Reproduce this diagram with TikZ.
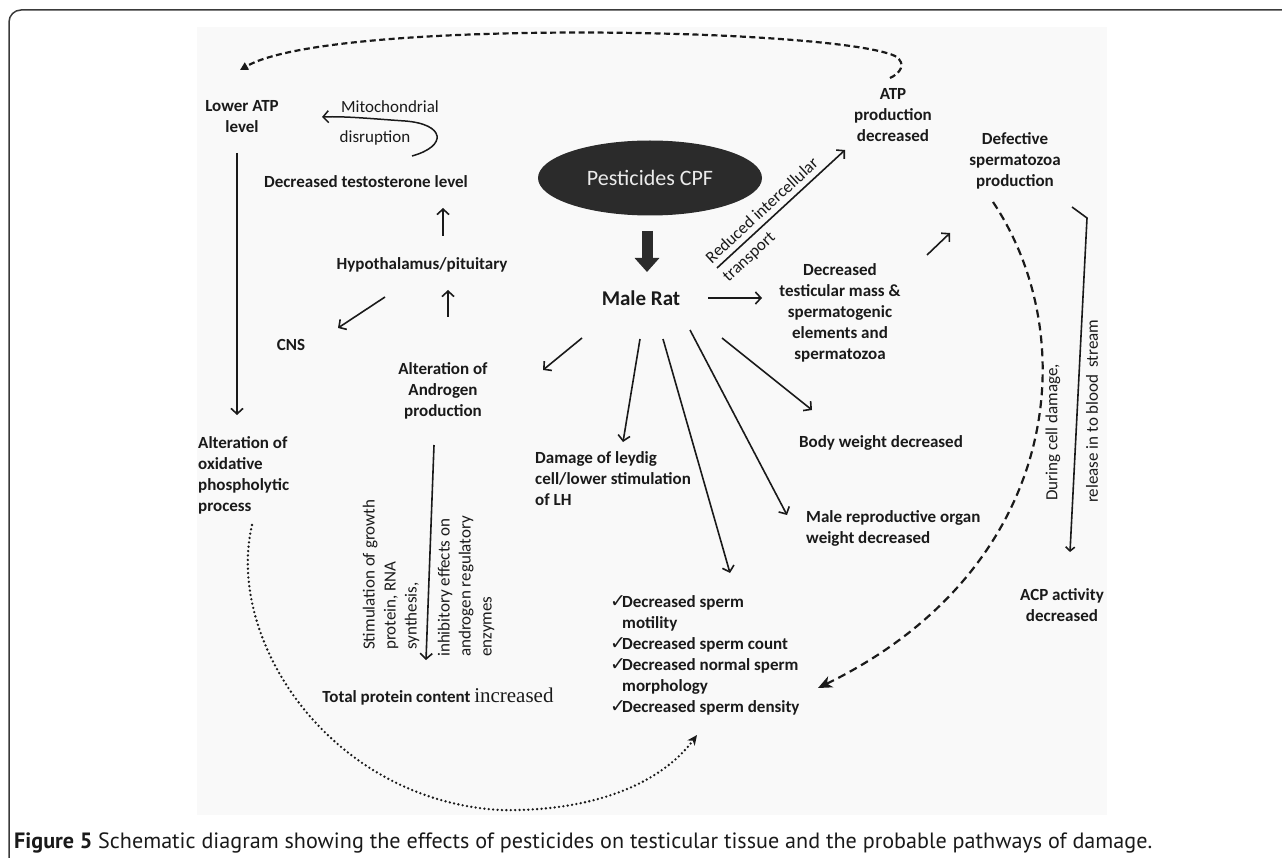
\documentclass[tikz,border=0pt]{standalone}
\usepackage{fontspec}
\setmainfont{Carlito}
\newfontfamily\capfont{PT Sans}
\newfontfamily\symfont{DejaVu Sans}
\newfontfamily\serfont{Liberation Serif}
\usetikzlibrary{arrows.meta,calc,shapes.geometric}
\definecolor{ink}{HTML}{1A1A1A}
\definecolor{bgpanel}{HTML}{F9F9F9}
\definecolor{pestfill}{HTML}{2B2B2B}
\definecolor{framecol}{HTML}{3A3A3A}
\newcommand\ckmark{\makebox[12pt][l]{\raisebox{0.5pt}{\symfont\bfseries\fontsize{19}{19}\selectfont ✓}}}
\newcommand\ckindent{\hspace*{12pt}}
\begin{document}
\begin{tikzpicture}[x=1pt,y=-1pt,
  lbl/.style={font=\fontsize{17}{21}\selectfont\bfseries, text=ink, align=center, inner sep=0pt},
  lbll/.style={lbl, align=left},
  reg/.style={font=\fontsize{17}{21}\selectfont, text=ink, align=left, inner sep=0pt},
  arr/.style={draw=ink, line width=1.6pt, -{Straight Barb[length=5.5pt,width=12pt]}},
  dashline/.style={draw=ink, line width=2.2pt, dash pattern=on 6pt off 3.5pt, -{Triangle[length=8pt,width=8pt]}},
  bigdash/.style={draw=ink, line width=2.2pt, dash pattern=on 8pt off 5pt, -{Stealth[length=14pt,width=12pt,inset=4pt]}},
  dotline/.style={draw=ink, line width=2.6pt, line cap=round, dash pattern=on 0pt off 4.4pt, -{Stealth[length=10pt,width=9pt,inset=3pt]}},
  blockarrow/.style={draw=pestfill, line width=11pt, -{Triangle[length=14pt,width=24pt]}}
]
\useasboundingbox (0,0) rectangle (1282,858);
% frame and panel
\draw[framecol, line width=1.5pt, rounded corners=12pt] (1282,10) -- (9,10) -- (9,860);
\fill[bgpanel] (197,27) rectangle (1107,815);

% nodes
\node[ellipse, fill=pestfill, minimum width=224pt, minimum height=75pt, inner sep=0pt,
      text=white!92!black, font=\fontsize{22}{22}\selectfont] (pest) at (650,178) {Pesticides CPF};
\node[lbl, font=\fontsize{21}{21}\selectfont\bfseries] (male) at (641,298) {Male Rat};
\node[lbl] (lowatp) at (242,117) {Lower ATP\\level};
\node[reg] (mitoA) at (390,107) {Mitochondrial};
\node[reg] (mitoB) at (375,138) {disruption};
\node[lbl] (testo) at (366,182) {Decreased testosterone level};
\node[lbl] (hypo) at (422,265) {Hypothalamus/pituitary};
\node[lbl] (cns) at (291,345) {CNS};
\node[lbl] (andro) at (443,391) {Alteration of\\Androgen\\production};
\node[lbll, anchor=west] (oxid) at (198,475) {Alteration of\\oxidative\\phospholytic\\process};
\node[lbl] (atp) at (893,115) {ATP\\production\\decreased};
\node[lbl] (defect) at (1015,161) {Defective\\spermatozoa\\production};
\node[lbl] (testis) at (840,313) {Decreased\\testicular mass \&\\spermatogenic\\elements and\\spermatozoa};
\node[lbll, anchor=west] (leydig) at (535,479) {Damage of leydig\\cell/lower stimulation\\of LH};
\node[lbl] (body) at (881,443) {Body weight decreased};
\node[lbll, anchor=west] (repro) at (806,528) {Male reproductive organ\\weight decreased};
\node[lbl] (acp) at (1062,605) {ACP activity\\decreased};
\node[lbll, anchor=west] (sperm) at (610,655.5) {\ckmark Decreased sperm\\\ckindent motility\\\ckmark Decreased sperm count\\\ckmark Decreased normal sperm\\\ckindent morphology\\\ckmark Decreased sperm density};
\node[lbl] (totprot) at (438,697) {Total protein content {\mdseries\serfont\fontsize{21}{21}\selectfont increased}};

% rotated labels
\node[reg, rotate=90, anchor=west] (stim) at (391,650) {Stimulation of growth\\protein, RNA\\synthesis,};
\node[reg, rotate=90, anchor=west] (inhib) at (466,657) {inhibitory effects on\\androgen regulatory\\enzymes};
\node[reg, rotate=42.7, anchor=west, font=\fontsize{17}{25}\selectfont] (reduced) at (717,270) {Reduced intercellular\\transport};
\node[reg, rotate=90, anchor=west] (during) at (1053,501) {During cell damage,};
\node[reg, rotate=90, anchor=west] (release) at (1092,503) {release in to blood\, stream};

% connectors
\draw[dashline] ($(atp)+(-3,-37)$) .. controls (899,74) and (908,64) .. (895,56)
   .. controls (835,28) and (330,18) .. ($(lowatp)+(-2,-47)$);
\draw[arr, line width=1.5pt] ($(testo)+(46,-26)$) .. controls (448,146) and (445,124) .. (405,121)
   .. controls (375,119) and (345,116) .. ($(lowatp)+(80,0)$);
\draw[arr] ($(hypo)+(21,-29)$) -- ($(testo)+(77,26)$);
\draw[arr] ($(andro)+(5,-74)$) -- ($(hypo)+(26,25)$);
\draw[arr] ($(hypo)+(-37,32)$) -- ($(cns)+(47,-17)$);
\draw[arr] ($(lowatp)+(-5,36)$) -- ($(oxid.west)+(39,-60)$);
\draw[blockarrow] ($(pest)+(-3,53)$) -- ($(male)+(6,-26)$);
\draw[arr] ($(male)+(76,-30)$) -- ($(atp)+(-48,35)$);
\draw[arr] ($(male)+(67,0)$) -- ($(testis)+(-78,-15)$);
\draw[arr] ($(testis)+(87,-58)$) -- ($(defect)+(-65,72)$);
\draw[arr] ($(male)+(-59,40)$) -- ($(andro)+(100,-21)$);
\draw[arr] ($(male)+(-1,41)$) -- ($(leydig.west)+(88,-37)$);
\draw[arr] ($(male)+(22,41)$) -- ($(sperm.west)+(120,-82.5)$);
\draw[arr] ($(male)+(49,32)$) -- ($(repro.west)+(-19,-13)$);
\draw[arr] ($(male)+(81,40)$) -- ($(body)+(-69,-33)$);
\draw[arr] ($(andro)+(-9,54)$) -- ($(totprot)+(-12,-37)$);
\draw[bigdash] ($(defect)+(-22,41)$) .. controls (1085,340) and (1060,570) .. ($(sperm.west)+(208,32.5)$);
\draw[arr, -{Straight Barb[length=4pt,width=9pt]}] ($(defect)+(57,46)$) -- ($(defect)+(72,57)$) -- ($(acp)+(8,-53)$);
\draw[dotline] ($(oxid.west)+(54,50)$) .. controls (225,640) and (330,800) .. (500,810)
   .. controls (590,812) and (660,785) .. ($(sperm.west)+(87,79.5)$);

% caption
\node[anchor=base west, inner sep=0pt, text=ink] (caption) at (14,848)
  {\resizebox{1138pt}{!}{\capfont{\bfseries Figure 5} Schematic diagram showing the effects of pesticides on testicular tissue and the probable pathways of damage.}};
\end{tikzpicture}
\end{document}
